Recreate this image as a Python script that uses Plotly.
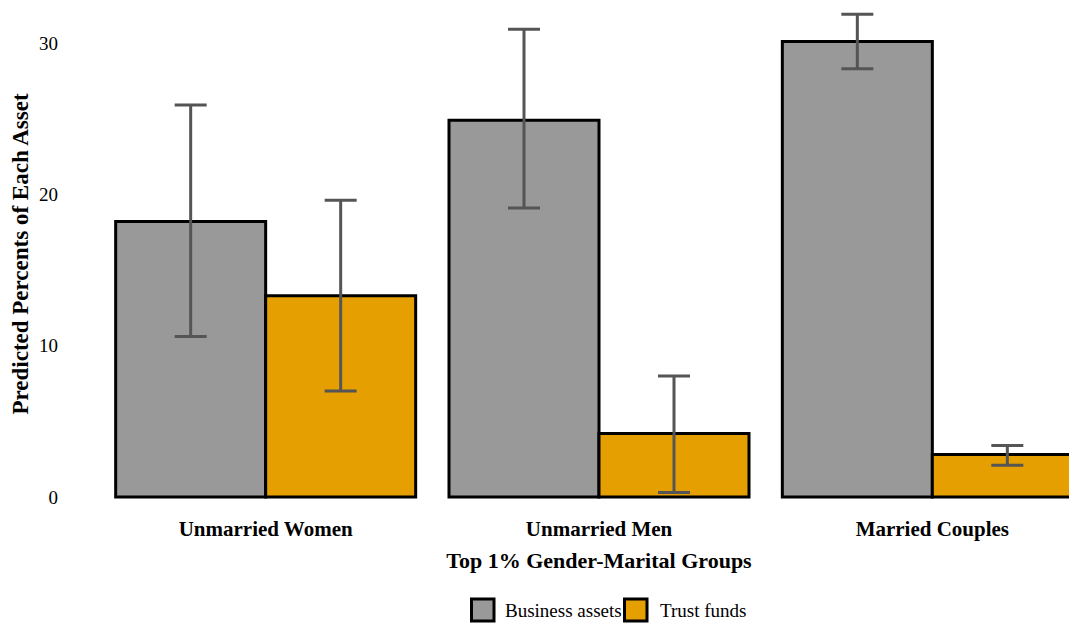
import plotly.graph_objects as go

categories = ["Unmarried Women", "Unmarried Men", "Married Couples"]
series_names = ["Business assets", "Trust funds"]
business = [18.2, 24.9, 30.1]
business_lo = [10.6, 19.1, 28.3]
business_hi = [25.9, 30.9, 31.9]
trust = [13.3, 4.2, 2.8]
trust_lo = [7.0, 0.3, 2.1]
trust_hi = [19.6, 8.0, 3.4]
colors = ["#999999", "#E69F00"]
y_ticks = [0, 10, 20, 30]

# page body has an 8px margin; the chart is cropped at the right like the reference
OFF = 8
W, H = 1091, 624 - OFF
L, R, T, B = 91, 0, 0, 124
FONT = "Liberation Serif, Times New Roman, serif"

fig = go.Figure()
for name, vals, lo, hi, col in [
    (series_names[0], business, business_lo, business_hi, colors[0]),
    (series_names[1], trust, trust_lo, trust_hi, colors[1]),
]:
    fig.add_trace(go.Bar(
        x=categories, y=vals, name=name,
        marker=dict(color=col, line=dict(color="black", width=3)),
        error_y=dict(type="data", symmetric=False,
                     array=[h - v for h, v in zip(hi, vals)],
                     arrayminus=[v - l for v, l in zip(vals, lo)],
                     color="#555555", thickness=3, width=16),
        showlegend=False,
    ))

fig.update_layout(
    width=W, height=H,
    margin=dict(l=L, r=R, t=T, b=B),
    barmode="group", bargap=0.1, bargroupgap=0,
    plot_bgcolor="white", paper_bgcolor="white",
    font=dict(family=FONT, color="black", size=19),
    xaxis=dict(range=[-0.5, 2.5], showgrid=False, zeroline=False, showline=False,
               ticks="outside", ticklen=10, tickcolor="rgba(0,0,0,0)",
               tickfont=dict(size=21, family=FONT, weight="bold"),
               title=dict(text="<b>Top 1% Gender-Marital Groups</b>", font=dict(size=22), standoff=12)),
    yaxis=dict(range=[-0.2, 32.31], tickvals=y_ticks, showgrid=False, zeroline=False,
               showline=False, ticklabelstandoff=40, tickfont=dict(size=19),
               title=dict(text="<b>Predicted Percents of Each Asset</b>", font=dict(size=23), standoff=4)),
)

def px_x(p):
    return (p - OFF - L) / (W - L - R)

def px_y(p):
    return (H - B - (p - OFF)) / (H - T - B)

legend_items = [(series_names[0], colors[0], 470, 503), (series_names[1], colors[1], 623, 658)]
for name, col, bx, tx in legend_items:
    fig.add_shape(type="rect", xref="paper", yref="paper",
                  x0=px_x(bx + 1.5), x1=px_x(bx + 24), y0=px_y(599), y1=px_y(621),
                  fillcolor=col, line=dict(color="black", width=3))
    fig.add_annotation(text=name, xref="paper", yref="paper", x=px_x(tx), y=px_y(610),
                       xanchor="left", yanchor="middle", showarrow=False,
                       font=dict(size=19, family=FONT, color="black"))

fig.write_html("out.html")
